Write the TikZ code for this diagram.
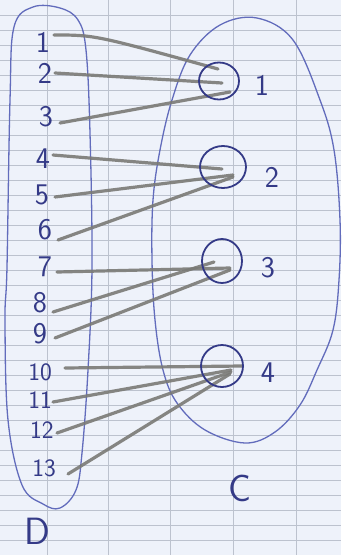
\documentclass[tikz,border=0pt]{standalone}
\usetikzlibrary{shapes.geometric}
\definecolor{paper}{RGB}{238,242,250}
\definecolor{gridc}{RGB}{188,194,206}
\definecolor{ink}{RGB}{52,58,135}
\definecolor{inklight}{RGB}{98,108,188}
\definecolor{pencil}{RGB}{122,122,118}
\tikzset{
  gridline/.style={draw=gridc, line width=0.8pt},
  oval/.style={draw=inklight, line width=1.3pt},
  dot/.style={draw=ink, line width=1.8pt, ellipse, inner sep=0pt},
  lab/.style={text=ink, font=\sffamily\fontsize{30}{30}\selectfont, inner sep=0pt},
  labsmall/.style={text=ink, font=\sffamily\fontsize{25}{25}\selectfont, inner sep=0pt},
  biglab/.style={text=ink, font=\sffamily\fontsize{38}{38}\selectfont, inner sep=0pt},
  pencilline/.style={draw=pencil, line width=3.2pt, line cap=round, opacity=0.9}
}
\begin{document}
\begin{tikzpicture}[x=1pt, y=-1pt]
\useasboundingbox (0,0) rectangle (341,555);
\fill[paper] (0,0) rectangle (341,555);
% grid
\foreach \k in {1,...,36} \draw[gridline] (0,15*\k) -- (341,15*\k);
\foreach \v in {47,108,170,233,296} \draw[gridline, line width=1pt] (\v,0) -- (\v,555);
% set D
\draw[oval] plot[smooth cycle, tension=0.6] coordinates {(33,7) (60,8) (78,20) (86,50) (90,133) (92,267) (88,370) (82,453) (76,490) (60,508) (43,504) (22,485) (8,420) (5,320) (7,267) (10,100) (14,27)};
% set C
\draw[oval] plot[smooth cycle, tension=0.6] coordinates {(257,18) (293,40) (320,100) (334,150) (340,220) (339,280) (333,330) (317,370) (300,405) (275,432) (245,443) (205,430) (177,403) (163,370) (155,320) (152,260) (153,200) (160,150) (172,100) (190,55) (220,25)};
% left labels
\node[lab] (l1) at (43,42) {1};
\node[lab] (l2) at (45,73) {2};
\node[lab] (l3) at (46,117) {3};
\node[lab] (l4) at (43,159) {4};
\node[lab] (l5) at (42,195) {5};
\node[lab] (l6) at (45,230) {6};
\node[lab] (l7) at (45,267) {7};
\node[lab] (l8) at (40,303) {8};
\node[lab] (l9) at (40,334) {9};
\node[labsmall] (l10) at (40,372) {10};
\node[labsmall] (l11) at (40,400) {11};
\node[labsmall] (l12) at (42,430) {12};
\node[labsmall] (l13) at (44,468) {13};
% start points
\coordinate (s1) at (54,35);
\coordinate (s2) at (55,73);
\coordinate (s3) at (60,123);
\coordinate (s4) at (53,155);
\coordinate (s5) at (55,197);
\coordinate (s6) at (58,240);
\coordinate (s7) at (57,272);
\coordinate (s8) at (53,312);
\coordinate (s9) at (55,338);
\coordinate (s10) at (65,368);
\coordinate (s11) at (53,402);
\coordinate (s12) at (57,433);
\coordinate (s13) at (68,474);
% end points
\coordinate (e1) at (218,69);
\coordinate (e2) at (222,83);
\coordinate (e3) at (230,92);
\coordinate (e4) at (222,169);
\coordinate (e5) at (233,175);
\coordinate (e6) at (233,177);
\coordinate (e7) at (230,268);
\coordinate (e8) at (214,262);
\coordinate (e9) at (230,270);
\coordinate (e10) at (242,366);
\coordinate (e11) at (231,370);
\coordinate (e12) at (231,372);
\coordinate (e13) at (230,374);
% pencil lines
\draw[pencilline] (s1) .. controls (95,35) .. (e1);
\draw[pencilline] (s2) -- (e2);
\draw[pencilline] (s3) -- (e3);
\draw[pencilline] (s4) -- (e4);
\draw[pencilline] (s5) -- (e5);
\draw[pencilline] (s6) -- (e6);
\draw[pencilline] (s7) -- (e7);
\draw[pencilline] (s8) -- (e8);
\draw[pencilline] (s9) -- (e9);
\draw[pencilline] (s10) -- (e10);
\draw[pencilline] (s11) -- (e11);
\draw[pencilline] (s12) -- (e12);
\draw[pencilline] (s13) -- (e13);
% circles in C
\node[dot, minimum width=40pt, minimum height=37pt] (c1) at (219,81) {};
\node[dot, minimum width=46pt, minimum height=42pt] (c2) at (223,167) {};
\node[dot, minimum width=40pt, minimum height=44pt] (c3) at (222,261) {};
\node[dot, minimum width=42pt, minimum height=42pt] (c4) at (222,366) {};
% right labels
\node[lab] (r1) at (262,85) {1};
\node[lab] (r2) at (272,177) {2};
\node[lab] (r3) at (268,268) {3};
\node[lab] (r4) at (268,373) {4};
% set names
\node[biglab] (nd) at (37,531) {D};
\node[biglab] (nc) at (240,488) {C};
\end{tikzpicture}
\end{document}
